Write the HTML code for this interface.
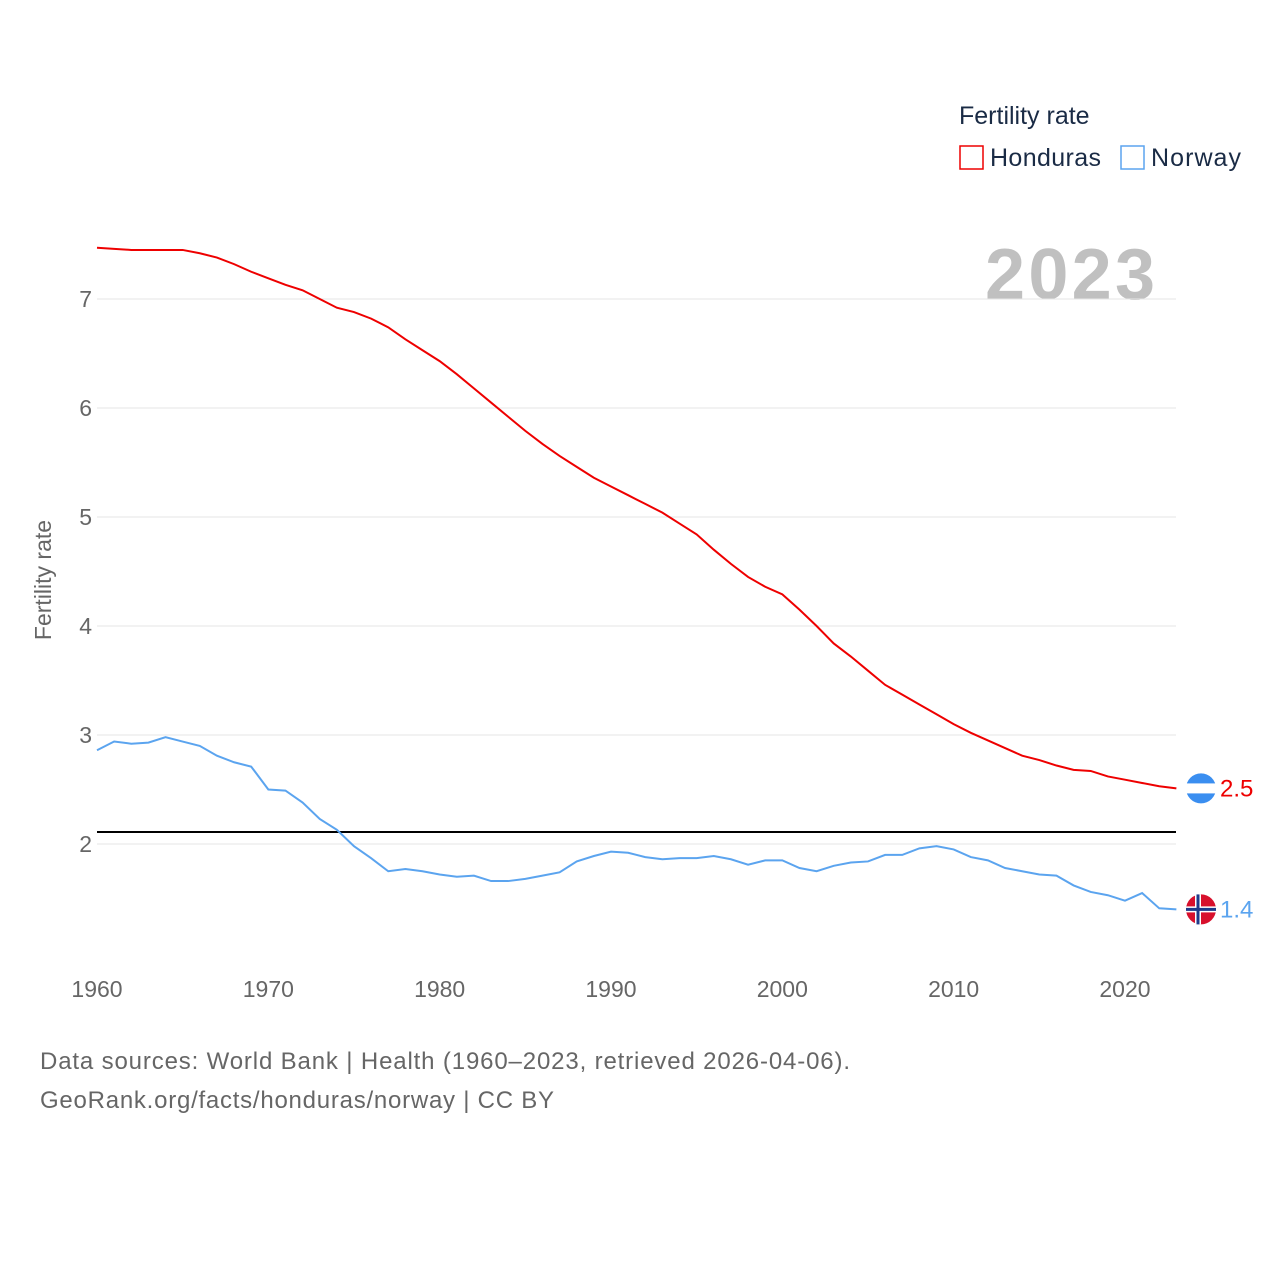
<!DOCTYPE html>
<html><head><meta charset="utf-8"><style>
body{margin:0;background:#fff;font-family:"Liberation Sans",sans-serif;}
svg{display:block}
</style></head><body>
<svg width="1280" height="1280" id="chart">
<text x="959" y="124" font-size="25" fill="#1a2b45">Fertility rate</text>
<g><rect x="960" y="146" width="23" height="23" fill="none" stroke="#ee0000" stroke-width="1.5"/><text x="990" y="166" font-size="25" fill="#1a2b45" textLength="111">Honduras</text></g>
<g><rect x="1121" y="146" width="23" height="23" fill="none" stroke="#5ba4ef" stroke-width="1.5"/><text x="1151" y="166" font-size="25" fill="#1a2b45" textLength="90">Norway</text></g>
<text x="985" y="299" font-size="72" font-weight="bold" fill="#c0c0c0" textLength="170">2023</text>
<text transform="translate(51,580) rotate(-90)" font-size="23" fill="#666" text-anchor="middle">Fertility rate</text>
<g id="grid"></g><g id="lines"></g>
<text x="40" y="1069" font-size="24" fill="#666" textLength="810">Data sources: World Bank | Health (1960–2023, retrieved 2026-04-06).</text>
<text x="40" y="1108" font-size="24" fill="#666" textLength="514">GeoRank.org/facts/honduras/norway | CC BY</text>
</svg>
<script>
const years=[];for(let y=1960;y<=2023;y++)years.push(y);
const honduras=[7.47,7.46,7.45,7.45,7.45,7.45,7.42,7.38,7.32,7.25,7.19,7.13,7.08,7.0,6.92,6.88,6.82,6.74,6.63,6.53,6.43,6.31,6.18,6.05,5.92,5.79,5.67,5.56,5.46,5.36,5.28,5.2,5.12,5.04,4.94,4.84,4.7,4.57,4.45,4.36,4.29,4.15,4.0,3.84,3.72,3.59,3.46,3.37,3.28,3.19,3.1,3.02,2.95,2.88,2.81,2.77,2.72,2.68,2.67,2.62,2.59,2.56,2.53,2.51];
const norway=[2.86,2.94,2.92,2.93,2.98,2.94,2.90,2.81,2.75,2.71,2.50,2.49,2.38,2.23,2.13,1.98,1.87,1.75,1.77,1.75,1.72,1.70,1.71,1.66,1.66,1.68,1.71,1.74,1.84,1.89,1.93,1.92,1.88,1.86,1.87,1.87,1.89,1.86,1.81,1.85,1.85,1.78,1.75,1.80,1.83,1.84,1.90,1.90,1.96,1.98,1.95,1.88,1.85,1.78,1.75,1.72,1.71,1.62,1.56,1.53,1.48,1.55,1.41,1.40];
const yTicks=[2,3,4,5,6,7];
const xTicks=[1960,1970,1980,1990,2000,2010,2020];
const replacement=[2.11];
const NS="http://www.w3.org/2000/svg";
const xs=y=>97+(y-1960)*17.133, ys=v=>1062-v*109;
function mk(t,a,p){const e=document.createElementNS(NS,t);for(const k in a)e.setAttribute(k,a[k]);p.appendChild(e);return e;}
const g=document.getElementById('grid'),L=document.getElementById('lines');
yTicks.forEach(v=>{const l=mk('line',{x1:97,x2:1176,y1:ys(v),y2:ys(v),stroke:'#e6e6e6'},g);


const t=mk('text',{x:92,y:ys(v)+8,'font-size':23,fill:'#666','text-anchor':'end'},g);t.textContent=v;

});
xTicks.forEach(v=>{const t=mk('text',{x:xs(v),y:997,'font-size':23,fill:'#666','text-anchor':'middle'},g);t.textContent=v;

});
replacement.forEach(v=>{const l=mk('line',{x1:97,x2:1176,y1:ys(v),y2:ys(v),stroke:'#000','stroke-width':2},L);

});
function series(arr,col,name){
const p=mk('polyline',{points:arr.map((v,i)=>xs(years[i])+','+ys(v)).join(' '),fill:'none',stroke:col,'stroke-width':2},L);


const last=arr[arr.length-1];
const c=mk('circle',{cx:1201,cy:ys(last),r:15,fill:col==='#ee0000'?'#3a8ef0':'#d8102c'},L);


if(name==='norway'){mk('rect',{x:1186,y:ys(last)-3,width:30,height:6,fill:'#fff'},L);mk('rect',{x:1195,y:ys(last)-15,width:6,height:30,fill:'#fff'},L);mk('rect',{x:1186,y:ys(last)-1.5,width:30,height:3,fill:'#1e3a8a'},L);mk('rect',{x:1196.5,y:ys(last)-15,width:3,height:30,fill:'#1e3a8a'},L);}
else{mk('rect',{x:1186,y:ys(last)-5,width:30,height:10,fill:'#fff'},L);}
const t=mk('text',{x:1220,y:ys(last)+8,'font-size':24,fill:col},L);t.textContent=last.toFixed(1);

}
series(honduras,'#ee0000','honduras');
series(norway,'#5ba4ef','norway');
</script>
</body></html>
